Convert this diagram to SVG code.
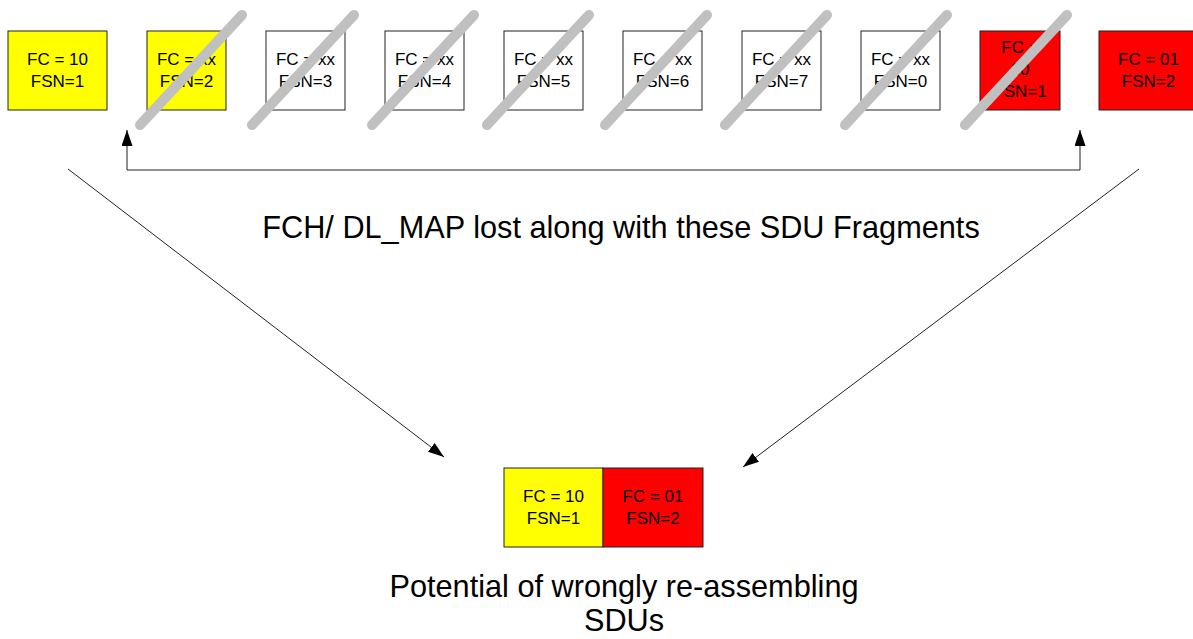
<svg xmlns="http://www.w3.org/2000/svg" width="1193" height="639" viewBox="0 0 1193 639">
<style>
.box{stroke:#222;stroke-width:1}
.y{fill:#ffff00}
.r{fill:#ff0000}
.w{fill:#ffffff}
.t{font-family:"Liberation Sans",Arial,sans-serif;font-size:17px;fill:#000;text-anchor:middle}
.big{font-family:"Liberation Sans",Arial,sans-serif;font-size:30.7px;fill:#000;text-anchor:middle}
.strike{stroke:#c0c0c0;stroke-width:10;stroke-linecap:round;fill:none}
.conn{stroke:#222;stroke-width:1;fill:none}
</style>
<defs>
<marker id="ah" markerUnits="userSpaceOnUse" markerWidth="17" markerHeight="12" refX="16" refY="5.5" orient="auto">
<path d="M0,0 L16,5.5 L0,11 z" fill="#000"/>
</marker>
</defs>
<rect width="1193" height="639" fill="#fff"/>
<g id="frag1"><rect class="box y" x="8" y="31" width="99" height="79"/><text class="t" x="57.5" y="65">FC = 10</text><text class="t" x="57.5" y="87">FSN=1</text></g>
<g id="frag2"><rect class="box y" x="147" y="31" width="79" height="79"/><text class="t" x="186.5" y="65">FC = xx</text><text class="t" x="186.5" y="87">FSN=2</text></g>
<g id="frag3"><rect class="box w" x="266" y="31" width="79" height="79"/><text class="t" x="305.5" y="65">FC = xx</text><text class="t" x="305.5" y="87">FSN=3</text></g>
<g id="frag4"><rect class="box w" x="385" y="31" width="79" height="79"/><text class="t" x="424.5" y="65">FC = xx</text><text class="t" x="424.5" y="87">FSN=4</text></g>
<g id="frag5"><rect class="box w" x="504" y="31" width="79" height="79"/><text class="t" x="543.5" y="65">FC = xx</text><text class="t" x="543.5" y="87">FSN=5</text></g>
<g id="frag6"><rect class="box w" x="623" y="31" width="79" height="79"/><text class="t" x="662.5" y="65">FC = xx</text><text class="t" x="662.5" y="87">FSN=6</text></g>
<g id="frag7"><rect class="box w" x="742" y="31" width="79" height="79"/><text class="t" x="781.5" y="65">FC = xx</text><text class="t" x="781.5" y="87">FSN=7</text></g>
<g id="frag8"><rect class="box w" x="861" y="31" width="79" height="79"/><text class="t" x="900.5" y="65">FC = xx</text><text class="t" x="900.5" y="87">FSN=0</text></g>
<g id="frag9"><rect class="box r" x="980" y="31" width="80" height="79"/><text class="t" x="1020" y="53">FC =</text><text class="t" x="1020" y="75">10</text><text class="t" x="1020" y="97">FSN=1</text></g>
<g id="frag10"><rect class="box r" x="1099" y="31" width="99" height="79"/><text class="t" x="1148.5" y="65">FC = 01</text><text class="t" x="1148.5" y="87">FSN=2</text></g>
<g id="strikes">
<line class="strike" x1="140" y1="125" x2="242" y2="15"/>
<line class="strike" x1="252" y1="125" x2="354" y2="15"/>
<line class="strike" x1="372" y1="125" x2="474" y2="15"/>
<line class="strike" x1="487" y1="125" x2="589" y2="15"/>
<line class="strike" x1="605" y1="125" x2="707" y2="15"/>
<line class="strike" x1="725" y1="125" x2="827" y2="15"/>
<line class="strike" x1="845" y1="125" x2="947" y2="15"/>
<line class="strike" x1="965" y1="125" x2="1067" y2="15"/>
</g>
<g id="result">
<rect class="box y" x="504" y="468" width="99" height="79"/><text class="t" x="553.5" y="502">FC = 10</text><text class="t" x="553.5" y="524">FSN=1</text>
<rect class="box r" x="603" y="468" width="100" height="79"/><text class="t" x="653" y="502">FC = 01</text><text class="t" x="653" y="524">FSN=2</text>
</g>
<g id="connectors">
<path class="conn" d="M127,170 L1080,170"/>
<path class="conn" d="M127,170 L127,130" marker-end="url(#ah)"/>
<path class="conn" d="M1080,170 L1080,130" marker-end="url(#ah)"/>
<path class="conn" d="M68,169 L444,457" marker-end="url(#ah)"/>
<path class="conn" d="M1139,169 L743,467" marker-end="url(#ah)"/>
</g>
<g id="labels">
<text class="big" x="621" y="238">FCH/ DL_MAP lost along with these SDU Fragments</text>
<text class="big" x="624" y="597">Potential of wrongly re-assembling</text>
<text class="big" x="624" y="631">SDUs</text>
</g>
</svg>
